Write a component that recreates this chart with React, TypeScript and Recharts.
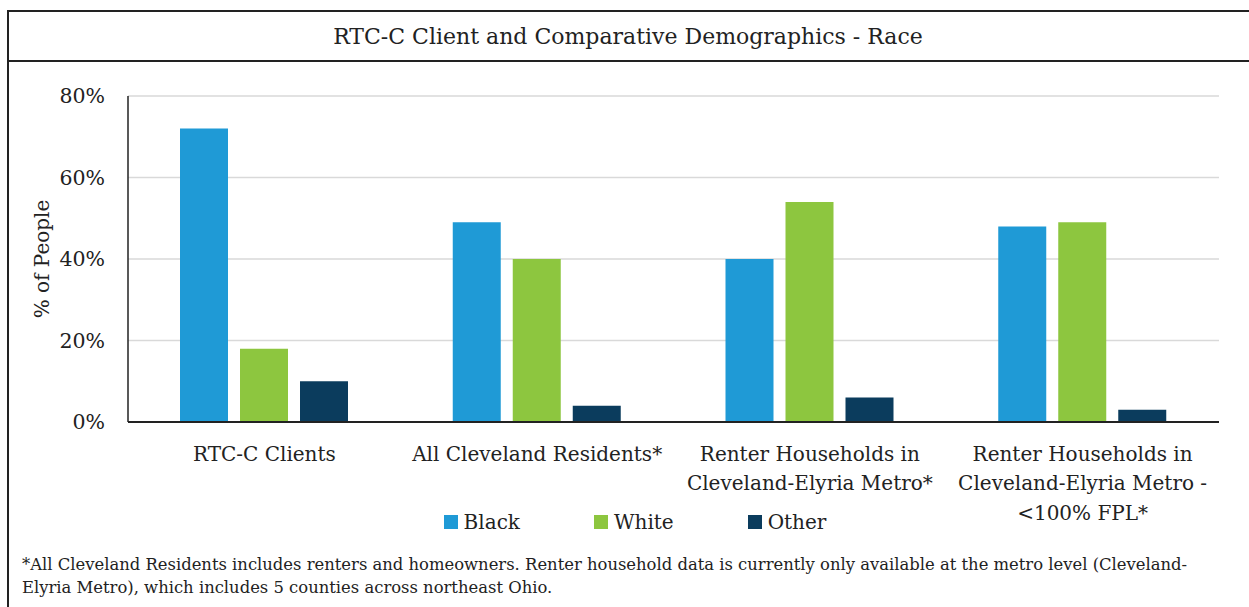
import { BarChart, Bar, XAxis, YAxis, CartesianGrid } from 'recharts';

// categories and values (percent of people)
const categories = [
  'RTC-C Clients',
  'All Cleveland Residents*',
  'Renter Households in\nCleveland-Elyria Metro*',
  'Renter Households in\nCleveland-Elyria Metro -\n<100% FPL*',
];
const black = [72, 49, 40, 48];
const white = [18, 40, 54, 49];
const other = [10, 4, 6, 3];
const yTicks = [0, 20, 40, 60, 80];

const series = [
  { key: 'black', name: 'Black', color: '#1F9AD6' },
  { key: 'white', name: 'White', color: '#8DC63F' },
  { key: 'other', name: 'Other', color: '#0B3C5D' },
];

const data = categories.map((c, i) => ({
  category: c,
  black: black[i],
  white: white[i],
  other: other[i],
}));

const FONT = '"DejaVu Serif", serif';
const INK = '#222';

const CategoryTick = ({ x, y, payload }: any) => {
  const lines = String(payload.value).split('\n');
  return (
    <text x={x} y={y} textAnchor="middle" fill={INK} fontSize={20} fontFamily={FONT}>
      {lines.map((line, i) => (
        <tspan key={i} x={x} y={y + 33 + i * 29.5} dominantBaseline="middle">
          {line}
        </tspan>
      ))}
    </text>
  );
};

export default function App() {
  return (
    <div
      style={{
        position: 'absolute',
        left: 0,
        top: 0,
        width: 1249,
        height: 607,
        overflow: 'hidden',
        background: '#fff',
        fontFamily: FONT,
        color: INK,
      }}
    >
      {/* frame: top + left border, title separator */}
      <div
        style={{
          position: 'absolute',
          left: 7,
          top: 10,
          width: 1250,
          height: 620,
          borderTop: `2px solid ${INK}`,
          borderLeft: `2px solid ${INK}`,
          boxSizing: 'border-box',
        }}
      />
      <div
        style={{
          position: 'absolute',
          left: 7,
          top: 12,
          width: 1242,
          height: 50,
          borderBottom: `2px solid ${INK}`,
          boxSizing: 'border-box',
          display: 'flex',
          alignItems: 'center',
          justifyContent: 'center',
          fontSize: 22,
        }}
      >
        RTC-C Client and Comparative Demographics - Race
      </div>

      <div style={{ position: 'absolute', left: 7, top: 62 }}>
        <BarChart
          width={1242}
          height={490}
          data={data}
          margin={{ top: 34, right: 30, left: 0, bottom: 0 }}
          barSize={48}
          barGap={12}
        >
          <CartesianGrid vertical={false} stroke="#d9d9d9" strokeWidth={1.5} />
          <XAxis
            dataKey="category"
            height={130}
            tickLine={false}
            tickSize={0}
            tickMargin={0}
            axisLine={{ stroke: INK, strokeWidth: 2 }}
            tick={<CategoryTick />}
            interval={0}
          />
          <YAxis
            width={121}
            domain={[0, 80]}
            ticks={yTicks}
            tickFormatter={(v: number) => `${v}%`}
            tickLine={false}
            tickSize={0}
            tickMargin={23}
            axisLine={{ stroke: INK, strokeWidth: 1.5 }}
            tick={{ fill: INK, fontSize: 20.5, fontFamily: FONT }}
          />
          {series.map((s) => (
            <Bar key={s.key} dataKey={s.key} name={s.name} fill={s.color} isAnimationActive={false} />
          ))}
        </BarChart>
      </div>

      {/* y axis title */}
      <div
        style={{
          position: 'absolute',
          left: 42,
          top: 259,
          transform: 'translate(-50%, -50%) rotate(-90deg)',
          fontSize: 20,
          whiteSpace: 'nowrap',
        }}
      >
        % of People
      </div>

      {/* legend */}
      <div
        style={{
          position: 'absolute',
          left: 0,
          width: 1270,
          top: 508,
          height: 28,
          display: 'flex',
          justifyContent: 'center',
          alignItems: 'center',
          gap: 74,
          fontSize: 20,
        }}
      >
        {series.map((s) => (
          <div key={s.key} style={{ display: 'flex', alignItems: 'center', gap: 6 }}>
            <span style={{ width: 14, height: 14, background: s.color, display: 'inline-block' }} />
            <span>{s.name}</span>
          </div>
        ))}
      </div>

      {/* footnote */}
      <div
        style={{
          position: 'absolute',
          left: 22,
          top: 553,
          width: 1220,
          fontSize: 16.4,
          lineHeight: '23px',
          whiteSpace: 'nowrap',
        }}
      >
        *All Cleveland Residents includes renters and homeowners. Renter household data is currently only available at the metro level (Cleveland-
        <br />
        Elyria Metro), which includes 5 counties across northeast Ohio.
      </div>
    </div>
  );
}
